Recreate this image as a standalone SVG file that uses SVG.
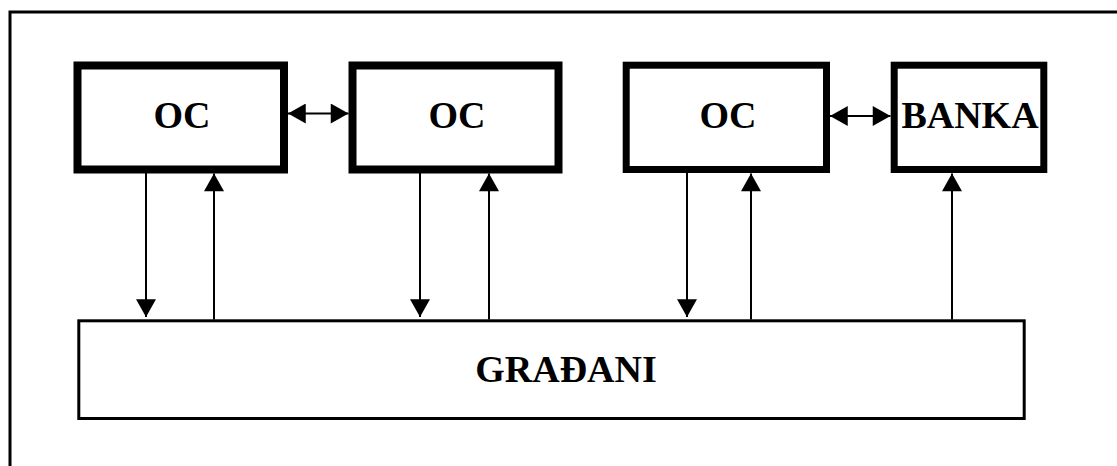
<svg xmlns="http://www.w3.org/2000/svg" width="1117" height="466" viewBox="0 0 1117 466">
<style>
.box{fill:#fff;stroke:#000}
.lbl{font-family:"Liberation Serif","Times New Roman",serif;font-weight:bold;font-size:38px;text-anchor:middle;fill:#000}
.con{stroke:#000;stroke-width:2;fill:none}
</style>
<defs>
<marker id="ah" markerUnits="userSpaceOnUse" markerWidth="20" markerHeight="20" refX="16" refY="9" orient="auto-start-reverse" viewBox="0 0 16 18">
<path d="M0,0 L16,9 L0,18 Z" fill="#000"/>
</marker>
</defs>
<rect width="1117" height="466" fill="#fff"/>
<path d="M10,466 V10.5 M8.5,12 H1117" stroke="#000" stroke-width="3" fill="none"/>
<g id="oc1"><rect class="box" x="77.5" y="65.5" width="206.5" height="104" stroke-width="8"/><text class="lbl" x="182" y="128">OC</text></g>
<g id="oc2"><rect class="box" x="352.5" y="65.5" width="206" height="104" stroke-width="8"/><text class="lbl" x="457" y="128">OC</text></g>
<g id="oc3"><rect class="box" x="626.2" y="65.2" width="200.3" height="104.3" stroke-width="7"/><text class="lbl" x="728" y="128">OC</text></g>
<g id="banka"><rect class="box" x="894.2" y="65.2" width="149.6" height="104.3" stroke-width="7"/><text class="lbl" x="970" y="128">BANKA</text></g>
<g id="gradani"><rect class="box" x="78.8" y="320.8" width="945.4" height="97.7" stroke-width="3"/><text class="lbl" x="566" y="381.5">GRAĐANI</text></g>
<g id="connectors">
<line class="con" x1="288" y1="113.5" x2="348.5" y2="113.5" marker-start="url(#ah)" marker-end="url(#ah)"/>
<line class="con" x1="830" y1="116" x2="890.5" y2="116" marker-start="url(#ah)" marker-end="url(#ah)"/>
<line class="con" x1="146" y1="173" x2="146" y2="317" marker-end="url(#ah)"/>
<line class="con" x1="214" y1="319.5" x2="214" y2="173.5" marker-end="url(#ah)"/>
<line class="con" x1="420" y1="173" x2="420" y2="317" marker-end="url(#ah)"/>
<line class="con" x1="489" y1="319.5" x2="489" y2="173.5" marker-end="url(#ah)"/>
<line class="con" x1="687" y1="173" x2="687" y2="317" marker-end="url(#ah)"/>
<line class="con" x1="751" y1="319.5" x2="751" y2="173.5" marker-end="url(#ah)"/>
<line class="con" x1="952" y1="319.5" x2="952" y2="173.5" marker-end="url(#ah)"/>
</g>
</svg>
